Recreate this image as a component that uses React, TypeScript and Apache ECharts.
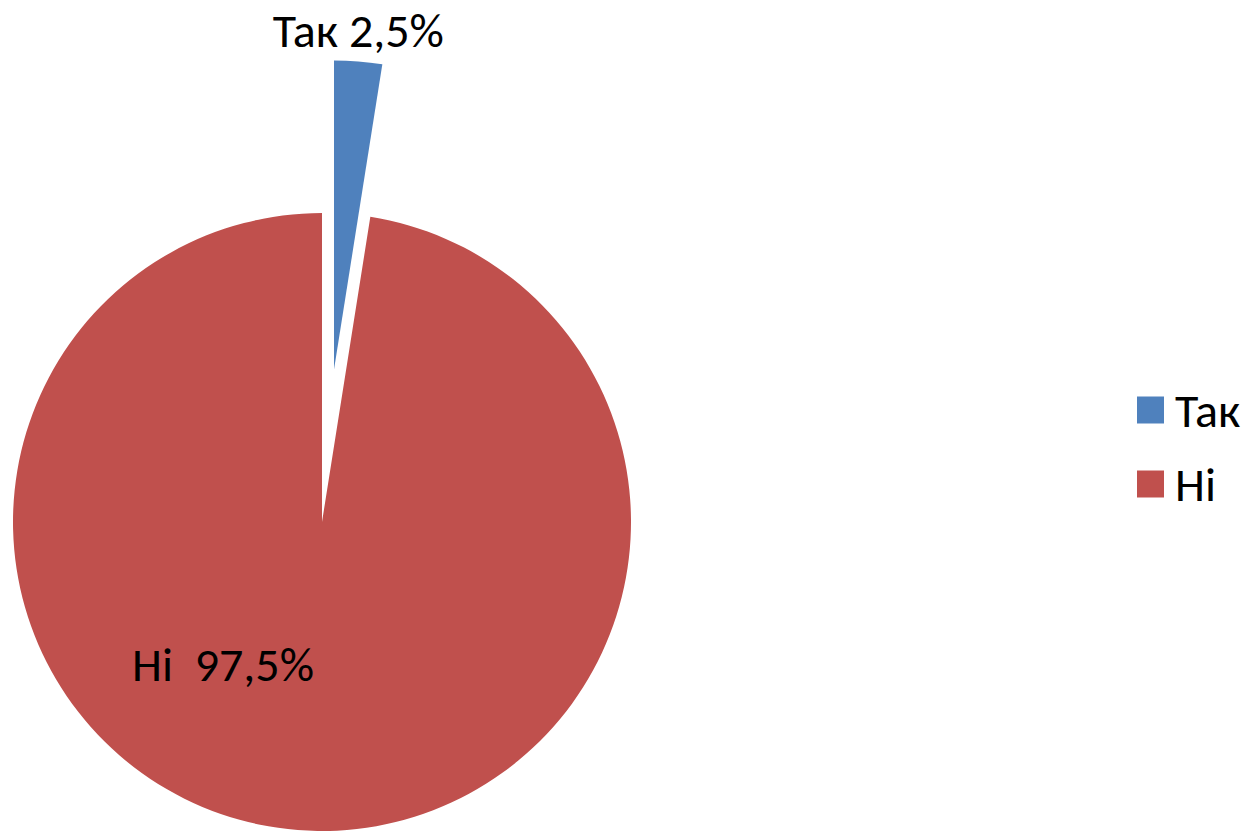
import React, { useEffect, useRef } from "react";
import * as echarts from "echarts";

const categories = ["Так", "Ні"];
const values = [2.5, 97.5];
const labelTexts = ["Так 2,5%", "Ні  97,5%"];
const colors = ["#4F81BD", "#C0504D"];

const FONT = "Carlito, Calibri, 'Open Sans', sans-serif";

export default function App() {
  const ref = useRef<HTMLDivElement>(null);
  useEffect(() => {
    if (!ref.current) return;
    const chart = echarts.init(ref.current, undefined, { renderer: "svg" });
    chart.setOption({
      animation: false,
      color: colors,
      legend: {
        orient: "vertical",
        left: 1137,
        top: 386,
        padding: 0,
        itemWidth: 27,
        itemHeight: 27,
        itemGap: 26,
        icon: "rect",
        data: categories,
        textStyle: {
          fontFamily: FONT,
          fontSize: 48,
          lineHeight: 48,
          color: "#000",
          padding: [0, 0, 0, 6],
        },
      },
      series: [
        {
          type: "pie",
          center: [322, 522],
          radius: 309,
          startAngle: 90,
          clockwise: true,
          selectedMode: "multiple",
          selectedOffset: 153,
          avoidLabelOverlap: false,
          labelLine: { show: false },
          label: {
            show: true,
            position: "inside",
            fontFamily: FONT,
            fontSize: 48,
            color: "#000",
            formatter: (p: any) => labelTexts[p.dataIndex],
          },
          labelLayout: (p: any) =>
            p.dataIndex === 0
              ? { dx: 12, dy: -182 }
              : { x: 223, y: 664, align: "center", verticalAlign: "middle" },
          emphasis: { disabled: true },
          data: categories.map((c, i) => ({
            name: c,
            value: values[i],
            selected: i === 0,
            itemStyle: { color: colors[i] },
          })),
        },
      ],
    });
    return () => chart.dispose();
  }, []);
  return (
    <div
      ref={ref}
      style={{ position: "fixed", left: 0, top: 0, width: 1245, height: 831, background: "#fff" }}
    />
  );
}
